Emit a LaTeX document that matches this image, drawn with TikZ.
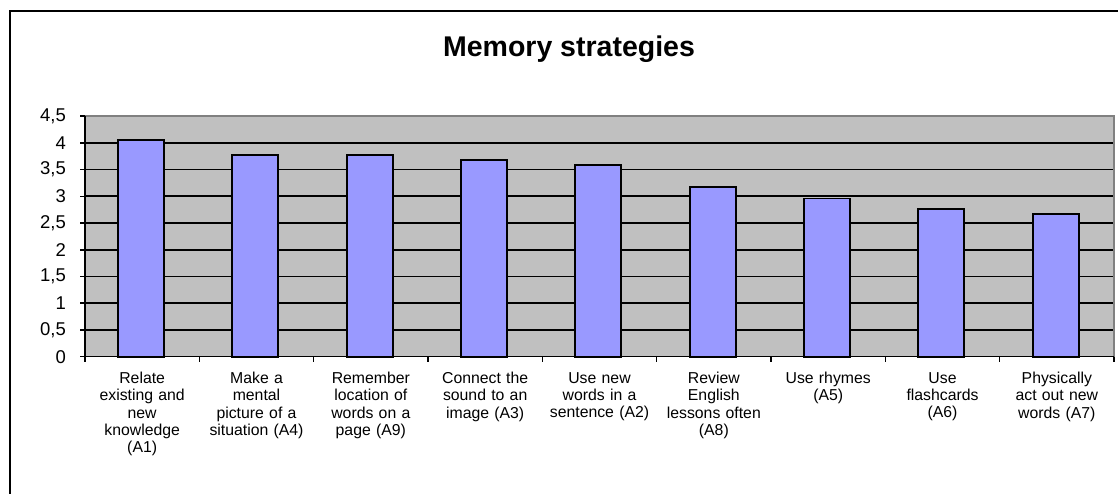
\documentclass[tikz,border=0pt]{standalone}
\usepackage{fontspec}
\setmainfont{Liberation Sans}
\definecolor{plotgray}{HTML}{C0C0C0}
\definecolor{barblue}{HTML}{9999FF}
\definecolor{bordergray}{HTML}{808080}
\begin{document}
\begin{tikzpicture}[x=1pt,y=1pt,
  titletext/.style={font=\fontsize{28.5}{30}\selectfont\bfseries, inner sep=0pt},
  catlabel/.style={align=center, font=\fontsize{15.8}{17.3}\selectfont, anchor=north, text width=114pt, inner sep=0pt},
  ylab/.style={anchor=east, font=\fontsize{18.5}{18.5}\selectfont, inner sep=0pt},
  barbox/.style={fill=barblue, draw=black, line width=1.8pt},
  gridline/.style={black, line width=1.7pt},
  axisline/.style={black, line width=1.6pt},
  frameline/.style={black, line width=2.4pt}]
\useasboundingbox (0,0) rectangle (1118,494);
\fill[white] (0,0) rectangle (1118,494);
\draw[frameline] (10,0) -- (10,483) -- (1118,483);
\node[titletext] (title) at (569,445) {Memory strategies};
% plot area
\fill[plotgray] (85,137.3) rectangle (1114,377.8);
\foreach \k in {1,...,8} {
  \draw[gridline] (85,{137.3+\k*26.725}) -- (1114,{137.3+\k*26.725});
}
\draw[bordergray, line width=1.8pt] (85,377.8) -- (1114,377.8) -- (1114,137.3);
% bars
\foreach \v [count=\i from 0] in {4.05,3.78,3.78,3.68,3.59,3.18,2.96,2.77,2.67} {
  \draw[barbox] ({85+\i*114.333+33},137.3) rectangle ({85+\i*114.333+79},{137.3+\v*53.45});
}
% axes
\draw[axisline] (85,377.8) -- (85,137.3) -- (1114,137.3);
\foreach \k in {0,...,9} {
  \draw[axisline] (80,{137.3+\k*26.725}) -- (85,{137.3+\k*26.725});
}
\foreach \i in {0,...,9} {
  \draw[axisline] ({85+\i*114.333},137.3) -- ({85+\i*114.333},131.5);
}
% y labels
\foreach \t [count=\k from 0] in {0,{0,5},1,{1,5},2,{2,5},3,{3,5},4,{4,5}} {
  \node[ylab] (y\k) at (66,{137.3+\k*26.725}) {\t};
}
% category labels
\foreach \t [count=\i from 0] in {
  {Relate\\existing and\\new\\knowledge\\(A1)},
  {Make a\\mental\\picture of a\\situation (A4)},
  {Remember\\location of\\words on a\\page (A9)},
  {Connect the\\sound to an\\image (A3)},
  {Use new\\words in a\\sentence (A2)},
  {Review\\English\\lessons often\\(A8)},
  {Use rhymes\\(A5)},
  {Use\\flashcards\\(A6)},
  {Physically\\act out new\\words (A7)}} {
  \node[catlabel] (c\i) at ({85+\i*114.333+57.17},122) {\t};
}
\end{tikzpicture}
\end{document}
